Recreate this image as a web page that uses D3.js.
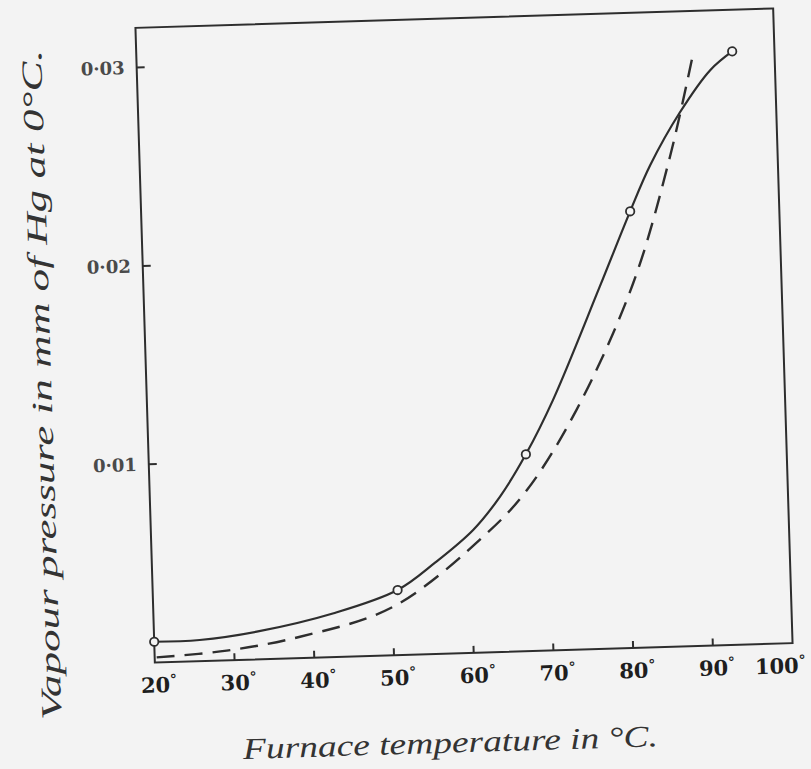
<!DOCTYPE html>
<html><head><meta charset="utf-8">
<script src="https://cdn.jsdelivr.net/npm/d3@7"></script>
<style>body{margin:0;background:#f3f3f3;overflow:hidden}</style>
</head><body>
<svg id="c" width="811" height="769"></svg>
<script>
// ---- data ----
const xTicks = [20, 30, 40, 50, 60, 70, 80, 90, 100];
const yTicks = [0.01, 0.02, 0.03];
const yTickLabels = ["0·01", "0·02", "0·03"];
const obsTemp  = [20, 50.7, 67.3, 81.3, 94.7];
const obsPress = [0.00105, 0.00328, 0.00992, 0.0220, 0.0299];
const solidTemp  = [20, 25.7, 32.9, 42.6, 50.7, 55.5, 60.4, 63.9, 67.3, 70.9, 77.2, 81.3, 84.0, 87.9, 91.9, 94.7];
const solidPress = [0.00105, 0.00107, 0.0014, 0.00221, 0.00328, 0.0046, 0.00619, 0.00783, 0.00992, 0.01261, 0.01825, 0.0220, 0.0243, 0.0269, 0.0290, 0.0299];
const dashTemp  = [20.25, 29.05, 38.3, 50.1, 62.1, 67.3, 73.8, 81.4, 86.5, 89.8];
const dashPress = [0.00026, 0.00049, 0.00108, 0.00245, 0.0060, 0.00812, 0.01207, 0.01837, 0.02469, 0.02986];
const xTitle = "Furnace temperature in °C.";
const yTitle = "Vapour pressure in mm of Hg at 0°C.";

// ---- layout ----
const L = 145, R = 783, T = 18, B = 653;
const svg = d3.select("#c");
svg.append("rect").attr("width", 811).attr("height", 769).attr("fill", "#f3f3f3");
const g = svg.append("g").attr("transform", "rotate(-1.75,464,335.5)");

const x = d3.scaleLinear().domain([20, 100]).range([L, R]);
const y = d3.scaleLinear().domain([0, 0.032]).range([B, T]);
const ink = "#2e2e2e";

// frame
g.append("rect").attr("x", L).attr("y", T).attr("width", R - L).attr("height", B - T)
  .attr("fill", "none").attr("stroke", ink).attr("stroke-width", 2);

// x ticks (inside) + labels
const xAxis = d3.axisBottom(x).tickValues(xTicks).tickSize(0).tickFormat(d => String(d));
const xa = g.append("g").attr("transform", `translate(0,${B})`).call(xAxis);
xa.select(".domain").remove();
xa.selectAll("text").attr("dy", 0).attr("y", 30)
  .attr("font-family", "DejaVu Serif").attr("font-weight", "bold").attr("font-size", 21).attr("fill", "#1e1e1e")
  .attr("text-anchor", d => d === 100 ? "end" : "middle")
  .attr("x", d => d === 100 ? 12 : 3)
  .append("tspan").attr("font-size", 14).attr("dy", -8).text("°");
g.selectAll(".xt").data(xTicks.filter(d => d > 20 && d < 100)).enter().append("line")
  .attr("x1", d => x(d)).attr("x2", d => x(d)).attr("y1", B).attr("y2", B - 7)
  .attr("stroke", ink).attr("stroke-width", 2);

// y ticks (inside) + labels
const yAxis = d3.axisLeft(y).tickValues(yTicks).tickSize(0).tickFormat((d, i) => yTickLabels[i]);
const ya = g.append("g").attr("transform", `translate(${L},0)`).call(yAxis);
ya.select(".domain").remove();
ya.selectAll("text").attr("x", -12)
  .attr("font-family", "DejaVu Serif").attr("font-weight", "bold").attr("font-size", 18).attr("fill", "#4a4a4a");
g.selectAll(".yt").data(yTicks).enter().append("line")
  .attr("x1", L).attr("x2", L + 8).attr("y1", d => y(d)).attr("y2", d => y(d))
  .attr("stroke", ink).attr("stroke-width", 2);

// curves
const line = d3.line().x(d => x(d[0])).y(d => y(d[1])).curve(d3.curveCatmullRom.alpha(0.5));
g.append("path").datum(dashTemp.map((t, i) => [t, dashPress[i]]))
  .attr("d", line).attr("fill", "none").attr("stroke", ink).attr("stroke-width", 2.4)
  .attr("stroke-dasharray", "18,10");
g.append("path").datum(solidTemp.map((t, i) => [t, solidPress[i]]))
  .attr("d", line).attr("fill", "none").attr("stroke", ink).attr("stroke-width", 2.2);

// observed points
g.selectAll(".pt").data(obsTemp.map((t, i) => [t, obsPress[i]])).enter().append("circle")
  .attr("cx", d => x(d[0])).attr("cy", d => y(d[1])).attr("r", 4.2)
  .attr("fill", "#f5f5f5").attr("stroke", ink).attr("stroke-width", 1.8);

// axis titles (handwritten in original)
g.append("text").attr("x", 438).attr("y", 752).attr("text-anchor", "middle")
  .attr("font-family", "Liberation Serif").attr("font-style", "italic").attr("font-size", 30)
  .attr("fill", "#333").attr("textLength", 415).attr("lengthAdjust", "spacingAndGlyphs")
  .text(xTitle);
g.append("text").attr("transform", "translate(50,372) rotate(-90)").attr("text-anchor", "middle")
  .attr("font-family", "Liberation Serif").attr("font-style", "italic").attr("font-size", 29)
  .attr("fill", "#333").attr("textLength", 670).attr("lengthAdjust", "spacingAndGlyphs")
  .text(yTitle);
</script>
</body></html>
